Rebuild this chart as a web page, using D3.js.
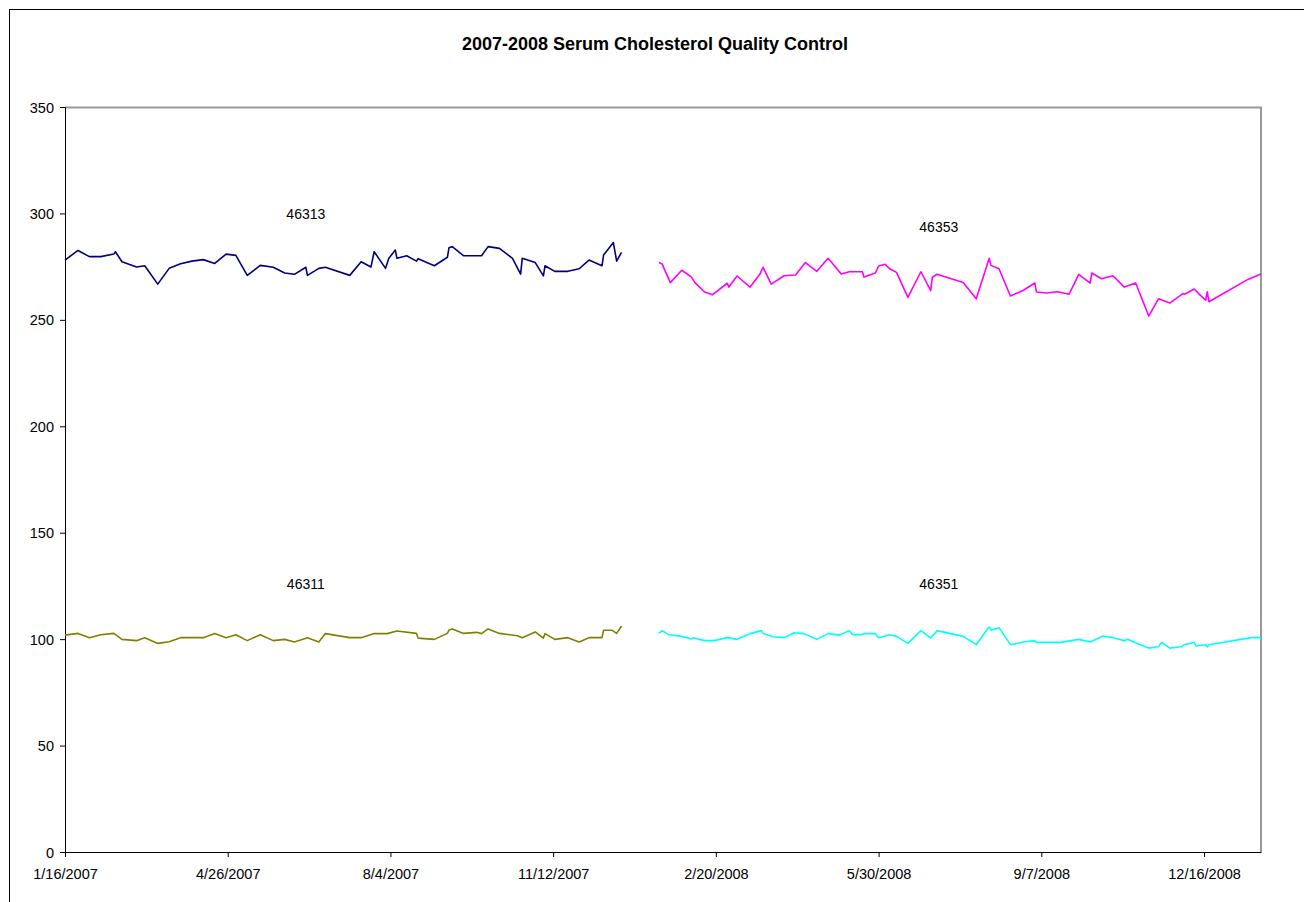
<!DOCTYPE html>
<meta charset="utf-8">
<html>
<head>
<script src="https://cdn.jsdelivr.net/npm/d3@7"></script>
<style>
body { margin: 0; background: #fff; }
svg { font-family: "Liberation Sans", Arial, sans-serif; }
.axis text { font-size: 14.5px; fill: #000; }
.axis .domain { stroke: #000; }
.axis line { stroke: #000; }
</style>
</head>
<body>
<script>
// ---- data ----
var title = "2007-2008 Serum Cholesterol Quality Control";
var yTicks = [0, 50, 100, 150, 200, 250, 300, 350];
var xTicks = ["2007-01-16", "2007-04-26", "2007-08-04", "2007-11-12",
              "2008-02-20", "2008-05-30", "2008-09-07", "2008-12-16"];
var xDomain = ["2007-01-16", "2009-01-20"];

// 46313 (2007 high level)
var dates46313 = ["2007-01-16","2007-01-24","2007-01-31","2007-02-07","2007-02-15","2007-02-16","2007-02-20",
  "2007-03-01","2007-03-06","2007-03-14","2007-03-21","2007-03-28","2007-04-04","2007-04-11","2007-04-18",
  "2007-04-25","2007-05-01","2007-05-08","2007-05-16","2007-05-24","2007-05-31","2007-06-06","2007-06-13",
  "2007-06-14","2007-06-21","2007-06-25","2007-07-10","2007-07-17","2007-07-23","2007-07-25","2007-08-01",
  "2007-08-03","2007-08-07","2007-08-08","2007-08-14","2007-08-20","2007-08-21","2007-08-31","2007-09-08",
  "2007-09-09","2007-09-11","2007-09-18","2007-09-29","2007-10-03","2007-10-10","2007-10-18","2007-10-23",
  "2007-10-24","2007-11-01","2007-11-06","2007-11-07","2007-11-13","2007-11-21","2007-11-28","2007-12-04",
  "2007-12-12","2007-12-13","2007-12-19","2007-12-21","2007-12-24"];
var values46313 = [278.1,282.6,279.7,279.7,280.9,282.0,277.3,
  274.8,275.4,266.8,274.2,276.4,277.6,278.3,276.5,
  280.9,280.3,270.9,275.6,274.7,272.0,271.4,274.7,
  270.9,274.2,274.7,270.9,277.3,274.8,282.0,274.2,
  278.9,282.8,278.9,280.1,277.6,278.7,275.4,279.4,
  283.9,284.4,280.1,280.1,284.4,283.6,278.9,271.5,
  278.9,276.9,270.7,275.4,272.8,272.8,274.0,278.1,
  275.4,280.5,286.3,277.6,281.7];

// 46311 (2007 low level)
var dates46311 = ["2007-01-16","2007-01-24","2007-01-31","2007-02-07","2007-02-15","2007-02-20","2007-03-01",
  "2007-03-06","2007-03-14","2007-03-21","2007-03-28","2007-04-11","2007-04-18","2007-04-25","2007-05-01",
  "2007-05-08","2007-05-16","2007-05-24","2007-05-31","2007-06-06","2007-06-14","2007-06-21","2007-06-25",
  "2007-07-10","2007-07-17","2007-07-25","2007-08-02","2007-08-08","2007-08-20","2007-08-21","2007-08-31",
  "2007-09-08","2007-09-09","2007-09-11","2007-09-18","2007-09-26","2007-09-29","2007-10-03","2007-10-10",
  "2007-10-21","2007-10-24","2007-11-01","2007-11-06","2007-11-07","2007-11-13","2007-11-21","2007-11-28",
  "2007-12-04","2007-12-12","2007-12-13","2007-12-18","2007-12-21","2007-12-24"];
var values46311 = [101.9,102.7,100.7,102.1,102.7,99.9,99.3,
  100.7,98.0,98.8,100.7,100.7,102.6,100.7,102.1,
  99.3,102.1,99.3,99.9,98.7,100.7,98.7,102.6,
  100.7,100.7,102.6,102.6,103.8,102.7,100.5,99.9,
  102.7,104.3,104.8,102.7,103.2,102.6,104.8,102.7,
  101.6,100.7,103.4,100.5,102.6,99.9,100.7,98.7,
  100.7,100.7,104.2,104.2,102.7,106.2];

// 46353 (2008 high level)
var dates46353 = ["2008-01-16","2008-01-18","2008-01-23","2008-01-30","2008-02-05","2008-02-07","2008-02-13",
  "2008-02-18","2008-02-27","2008-02-28","2008-03-04","2008-03-12","2008-03-18","2008-03-20","2008-03-25",
  "2008-04-02","2008-04-09","2008-04-15","2008-04-22","2008-04-29","2008-05-07","2008-05-12","2008-05-20",
  "2008-05-21","2008-05-28","2008-05-30","2008-06-03","2008-06-06","2008-06-10","2008-06-17","2008-06-25",
  "2008-07-01","2008-07-02","2008-07-05","2008-07-21","2008-07-29","2008-08-05","2008-08-06","2008-08-07",
  "2008-08-12","2008-08-19","2008-08-27","2008-09-03","2008-09-04","2008-09-10","2008-09-17","2008-09-24",
  "2008-09-30","2008-10-07","2008-10-08","2008-10-14","2008-10-21","2008-10-28","2008-11-04","2008-11-12",
  "2008-11-18","2008-11-25","2008-12-03","2008-12-04","2008-12-10","2008-12-13","2008-12-17","2008-12-18",
  "2008-12-19","2009-01-12","2009-01-20"];
var values46353 = [276.9,276.2,267.5,273.3,270.1,267.6,263.1,
  261.8,267.2,265.4,270.6,265.4,271.4,274.7,266.8,
  270.7,271.1,276.9,272.8,278.9,271.5,272.6,272.6,
  270.1,272.0,275.3,276.1,273.9,272.3,260.6,272.6,
  263.7,270.0,271.4,267.5,259.9,276.6,278.9,275.6,
  274.0,261.2,263.9,267.3,263.1,262.6,263.2,262.0,
  271.4,267.3,272.0,269.3,270.7,265.4,267.3,251.8,
  259.9,257.9,262.3,262.0,264.5,262.1,259.2,263.2,
  258.5,269.0,271.5];

// 46351 (2008 low level)
var dates46351 = ["2008-01-16","2008-01-18","2008-01-22","2008-01-30","2008-02-05","2008-02-06","2008-02-13",
  "2008-02-19","2008-02-27","2008-03-04","2008-03-12","2008-03-19","2008-03-20","2008-03-26","2008-04-02",
  "2008-04-08","2008-04-14","2008-04-22","2008-04-29","2008-05-06","2008-05-12","2008-05-14","2008-05-20",
  "2008-05-21","2008-05-28","2008-05-30","2008-06-06","2008-06-10","2008-06-17","2008-06-25","2008-07-01",
  "2008-07-05","2008-07-21","2008-07-29","2008-08-05","2008-08-06","2008-08-07","2008-08-12","2008-08-19",
  "2008-08-28","2008-09-03","2008-09-04","2008-09-19","2008-09-30","2008-10-07","2008-10-15","2008-10-21",
  "2008-10-28","2008-10-30","2008-11-05","2008-11-12","2008-11-18","2008-11-20","2008-11-25","2008-12-02",
  "2008-12-04","2008-12-10","2008-12-11","2008-12-17","2008-12-18","2008-12-19","2009-01-14","2009-01-20"];
var values46351 = [102.7,104.0,102.1,101.3,100.1,100.7,99.3,
  99.3,100.7,99.9,102.6,104.0,102.6,101.1,100.7,
  103.0,102.6,99.9,102.6,101.9,104.0,102.1,102.1,
  102.6,102.6,100.7,102.1,101.3,98.0,104.0,100.5,
  104.0,101.3,97.4,104.9,105.6,104.2,105.4,97.4,
  98.8,99.3,98.5,98.5,99.9,98.7,101.5,100.7,
  99.3,99.9,98.0,95.8,96.4,98.5,95.8,96.4,
  97.4,98.5,96.8,97.4,96.4,97.4,100.7,100.7];

var seriesNames = ["46313", "46311", "46353", "46351"];
var seriesColors = ["#000080", "#808000", "#FF00FF", "#00FFFF"];
var seriesDates = [dates46313, dates46311, dates46353, dates46351];
var seriesValues = [values46313, values46311, values46353, values46351];

// where the series names sit (date, value)
var labelDates = ["2007-06-13", "2007-06-13", "2008-07-06", "2008-07-06"];
var labelValues = [297.4, 123.6, 291.3, 123.6];

// ---- layout ----
var width = 1304, height = 902;
var margin = {top: 107, right: 43, bottom: 50, left: 65};
var innerW = width - margin.left - margin.right,
    innerH = height - margin.top - margin.bottom;

var parse = d3.timeParse("%Y-%m-%d");
var fmt = d3.timeFormat("%-m/%-d/%Y");

var svg = d3.select("body").append("svg")
    .attr("width", width)
    .attr("height", height);

// outer chart frame
svg.append("rect")
    .attr("x", 9.5).attr("y", 9.5)
    .attr("width", width + 20).attr("height", height + 20)
    .attr("fill", "none").attr("stroke", "#000").attr("stroke-width", 1);

svg.append("text")
    .attr("x", 655).attr("y", 50)
    .attr("text-anchor", "middle")
    .style("font-size", "18px").style("font-weight", "bold")
    .text(title);

var g = svg.append("g").attr("transform", "translate(" + margin.left + "," + margin.top + ")");

var x = d3.scaleTime().domain(xDomain.map(parse)).range([0, innerW]);
var y = d3.scaleLinear().domain([0, 350]).range([innerH, 0]);

// plot area border (gray top / right)
g.append("path")
    .attr("d", "M0,0.5H" + innerW + "V" + innerH)
    .attr("fill", "none").attr("stroke", "#999").attr("stroke-width", 2);

g.append("g").attr("class", "axis")
    .call(d3.axisLeft(y).tickValues(yTicks).tickSize(5).tickPadding(6))
    .call(function(s) { s.selectAll("text").attr("dy", "0.35em"); });

g.append("g").attr("class", "axis")
    .attr("transform", "translate(0," + innerH + ")")
    .call(d3.axisBottom(x).tickValues(xTicks.map(parse)).tickFormat(fmt).tickSize(5).tickSizeOuter(0).tickPadding(12));

var line = d3.line()
    .x(function(d) { return x(d.date); })
    .y(function(d) { return y(d.value); });

seriesNames.forEach(function(name, i) {
  var pts = seriesDates[i].map(function(d, j) {
    return {date: parse(d), value: seriesValues[i][j]};
  });
  g.append("path")
      .datum(pts)
      .attr("fill", "none")
      .attr("stroke", seriesColors[i])
      .attr("stroke-width", 1.6)
      .attr("stroke-linejoin", "round")
      .attr("d", line);
});

// series labels
g.selectAll(".lbl").data(seriesNames).enter().append("text")
    .attr("class", "lbl")
    .attr("x", function(d, i) { return x(parse(labelDates[i])); })
    .attr("y", function(d, i) { return y(labelValues[i]); })
    .attr("text-anchor", "middle")
    .style("font-size", "14px")
    .text(function(d) { return d; });
</script>
</body>
</html>
